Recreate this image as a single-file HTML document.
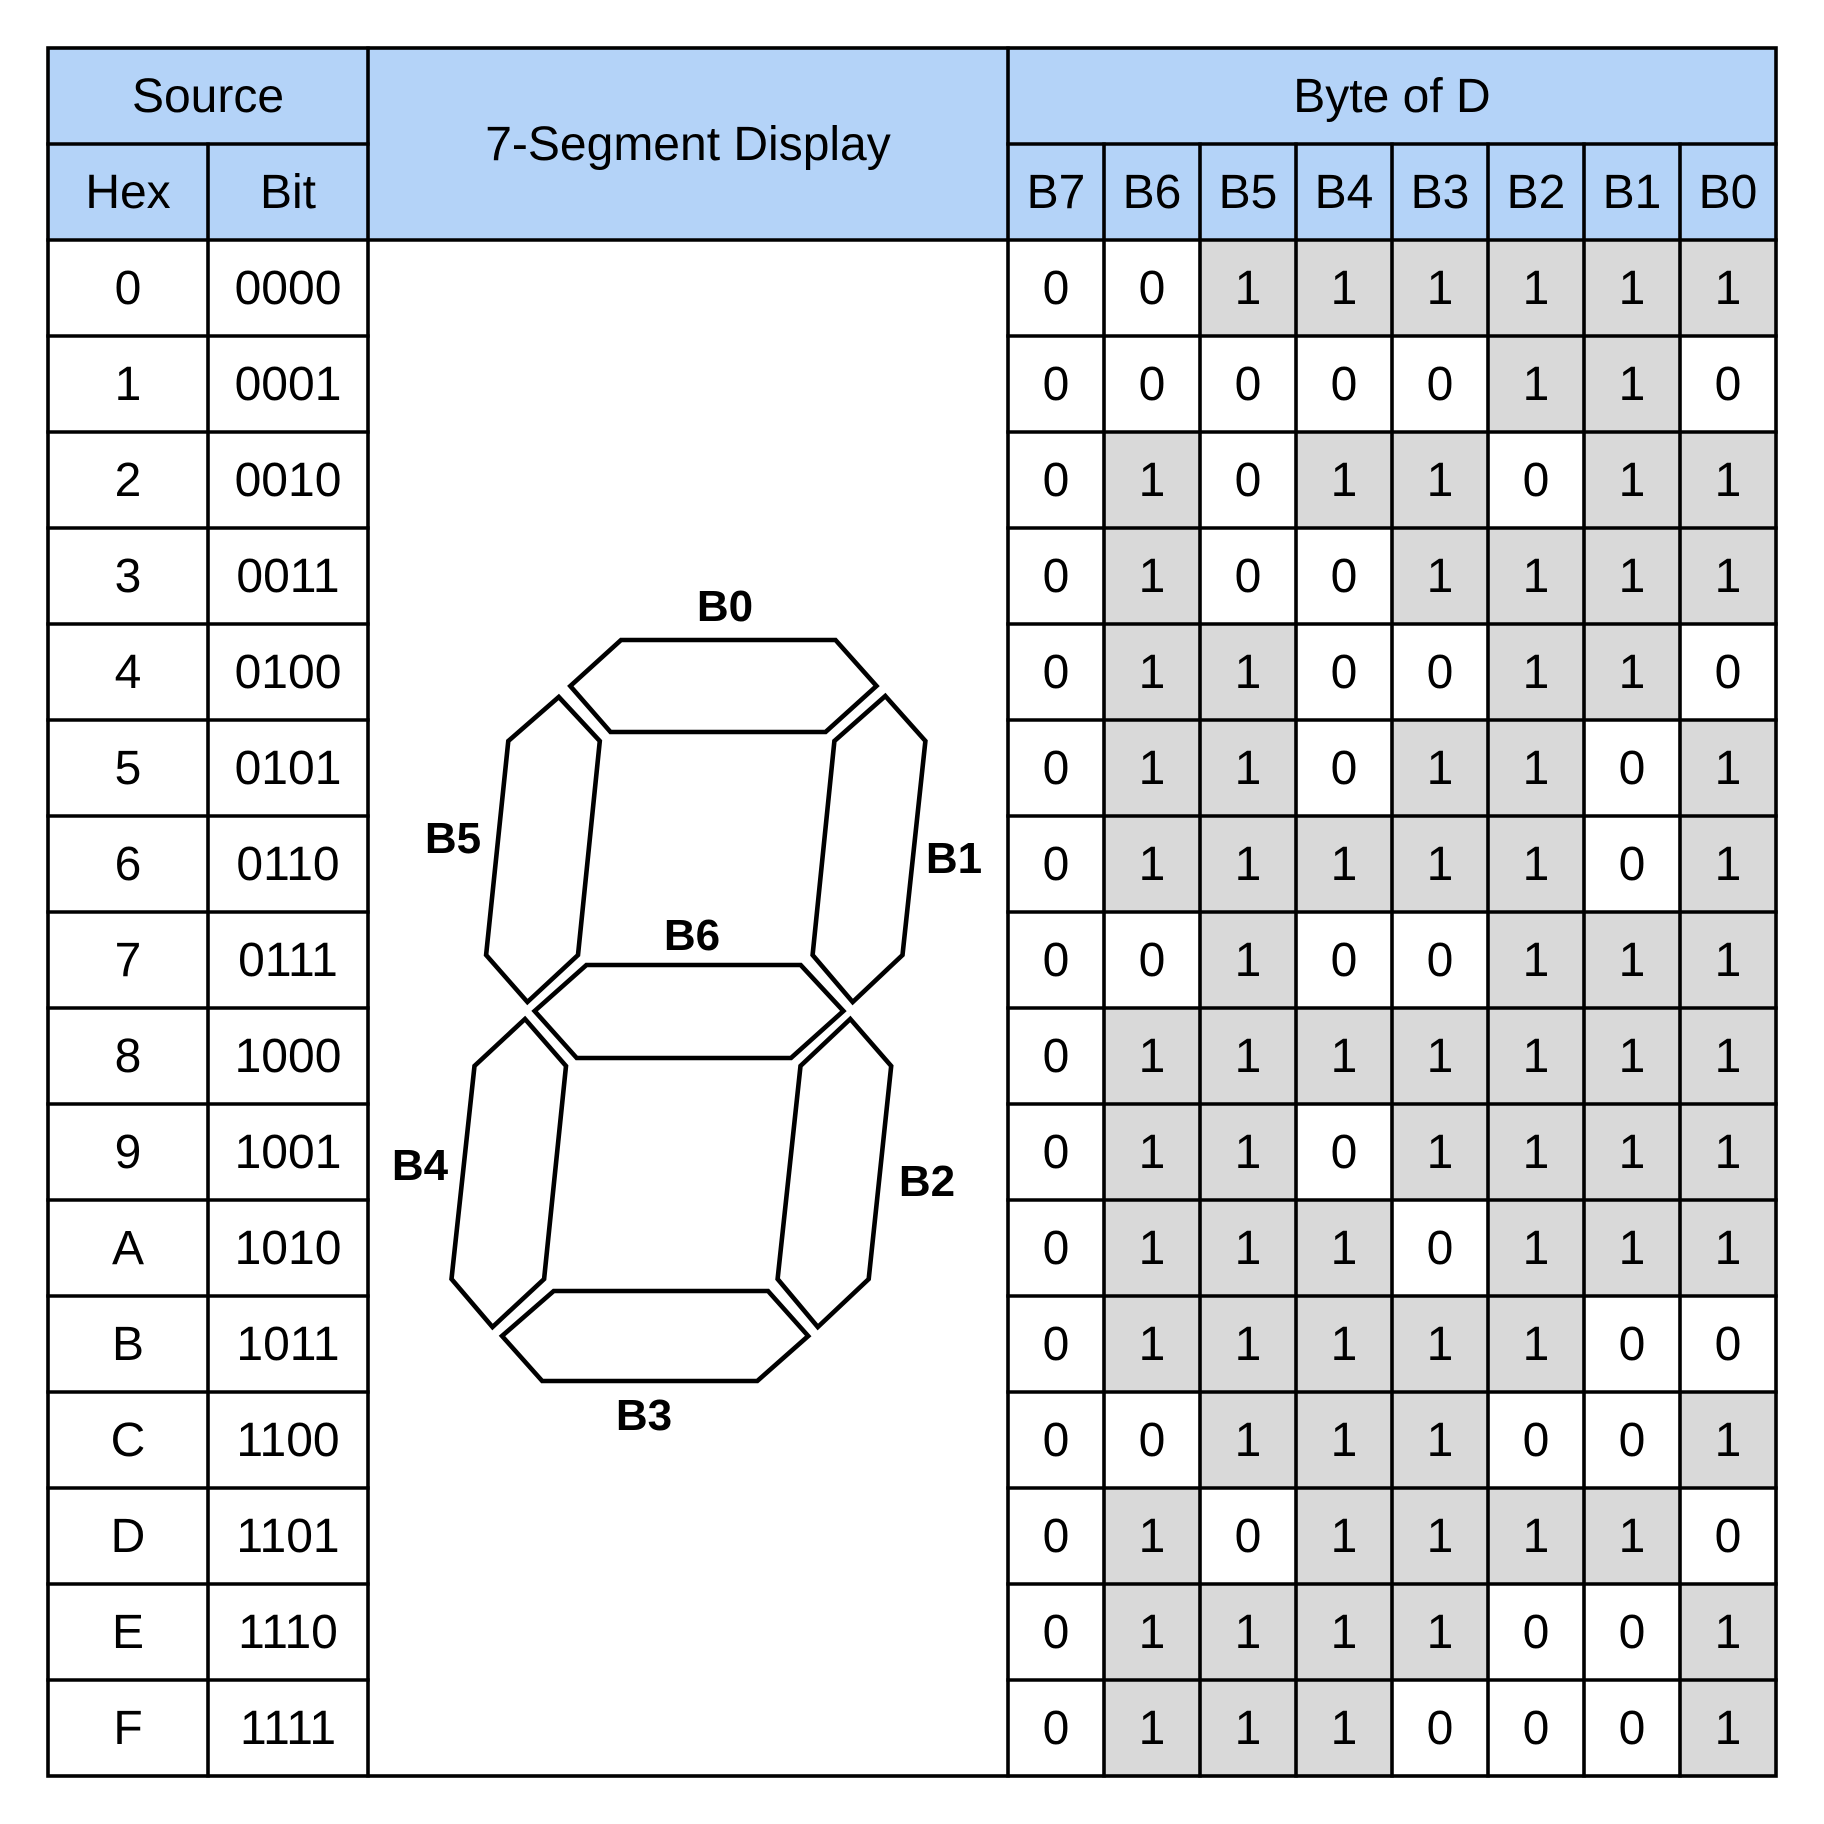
<!DOCTYPE html>
<html>
<head>
<meta charset="utf-8">
<style>
  html, body { margin:0; padding:0; background:#ffffff; }
  svg { display:block; }
  text { font-family: "Liberation Sans", Helvetica, Arial, sans-serif; font-size:48px; fill:#000; text-anchor:middle; }
  .lbl { font-weight:bold; font-size:44px; }
</style>
</head>
<body>
<svg width="1824" height="1824" viewBox="0 0 1824 1824" xmlns="http://www.w3.org/2000/svg">
  <rect x="0" y="0" width="1824" height="1824" fill="#ffffff"/>
  <!-- header fill -->
  <rect x="48" y="48" width="1728" height="192" fill="#b4d3f8"/>

  <!-- gray cells -->
  <g fill="#d9d9d9">
    <!-- row 0 y240 -->
    <rect x="1200" y="240" width="576" height="96"/>
    <!-- row 1 y336 -->
    <rect x="1488" y="336" width="192" height="96"/>
    <!-- row 2 y432 -->
    <rect x="1104" y="432" width="96" height="96"/>
    <rect x="1296" y="432" width="192" height="96"/>
    <rect x="1584" y="432" width="192" height="96"/>
    <!-- row 3 y528 -->
    <rect x="1104" y="528" width="96" height="96"/>
    <rect x="1392" y="528" width="384" height="96"/>
    <!-- row 4 y624 -->
    <rect x="1104" y="624" width="192" height="96"/>
    <rect x="1488" y="624" width="192" height="96"/>
    <!-- row 5 y720 -->
    <rect x="1104" y="720" width="192" height="96"/>
    <rect x="1392" y="720" width="192" height="96"/>
    <rect x="1680" y="720" width="96" height="96"/>
    <!-- row 6 y816 -->
    <rect x="1104" y="816" width="480" height="96"/>
    <rect x="1680" y="816" width="96" height="96"/>
    <!-- row 7 y912 -->
    <rect x="1200" y="912" width="96" height="96"/>
    <rect x="1488" y="912" width="288" height="96"/>
    <!-- row 8 y1008 -->
    <rect x="1104" y="1008" width="672" height="96"/>
    <!-- row 9 y1104 -->
    <rect x="1104" y="1104" width="192" height="96"/>
    <rect x="1392" y="1104" width="384" height="96"/>
    <!-- row A y1200 -->
    <rect x="1104" y="1200" width="288" height="96"/>
    <rect x="1488" y="1200" width="288" height="96"/>
    <!-- row B y1296 -->
    <rect x="1104" y="1296" width="480" height="96"/>
    <!-- row C y1392 -->
    <rect x="1200" y="1392" width="288" height="96"/>
    <rect x="1680" y="1392" width="96" height="96"/>
    <!-- row D y1488 -->
    <rect x="1104" y="1488" width="96" height="96"/>
    <rect x="1296" y="1488" width="384" height="96"/>
    <!-- row E y1584 -->
    <rect x="1104" y="1584" width="384" height="96"/>
    <rect x="1680" y="1584" width="96" height="96"/>
    <!-- row F y1680 -->
    <rect x="1104" y="1680" width="288" height="96"/>
    <rect x="1680" y="1680" width="96" height="96"/>
  </g>

  <!-- grid lines -->
  <g stroke="#000" stroke-width="3.6" stroke-linecap="square" fill="none">
    <rect x="48" y="48" width="1728" height="1728"/>
    <line x1="48" y1="144" x2="368" y2="144"/>
    <line x1="1008" y1="144" x2="1776" y2="144"/>
    <line x1="48" y1="240" x2="1776" y2="240"/>
    <line x1="208" y1="144" x2="208" y2="1776"/>
    <line x1="368" y1="48" x2="368" y2="1776"/>
    <line x1="1008" y1="48" x2="1008" y2="1776"/>
    <line x1="1104" y1="144" x2="1104" y2="1776"/>
    <line x1="1200" y1="144" x2="1200" y2="1776"/>
    <line x1="1296" y1="144" x2="1296" y2="1776"/>
    <line x1="1392" y1="144" x2="1392" y2="1776"/>
    <line x1="1488" y1="144" x2="1488" y2="1776"/>
    <line x1="1584" y1="144" x2="1584" y2="1776"/>
    <line x1="1680" y1="144" x2="1680" y2="1776"/>
    <line x1="48" y1="336" x2="368" y2="336"/><line x1="1008" y1="336" x2="1776" y2="336"/>
    <line x1="48" y1="432" x2="368" y2="432"/><line x1="1008" y1="432" x2="1776" y2="432"/>
    <line x1="48" y1="528" x2="368" y2="528"/><line x1="1008" y1="528" x2="1776" y2="528"/>
    <line x1="48" y1="624" x2="368" y2="624"/><line x1="1008" y1="624" x2="1776" y2="624"/>
    <line x1="48" y1="720" x2="368" y2="720"/><line x1="1008" y1="720" x2="1776" y2="720"/>
    <line x1="48" y1="816" x2="368" y2="816"/><line x1="1008" y1="816" x2="1776" y2="816"/>
    <line x1="48" y1="912" x2="368" y2="912"/><line x1="1008" y1="912" x2="1776" y2="912"/>
    <line x1="48" y1="1008" x2="368" y2="1008"/><line x1="1008" y1="1008" x2="1776" y2="1008"/>
    <line x1="48" y1="1104" x2="368" y2="1104"/><line x1="1008" y1="1104" x2="1776" y2="1104"/>
    <line x1="48" y1="1200" x2="368" y2="1200"/><line x1="1008" y1="1200" x2="1776" y2="1200"/>
    <line x1="48" y1="1296" x2="368" y2="1296"/><line x1="1008" y1="1296" x2="1776" y2="1296"/>
    <line x1="48" y1="1392" x2="368" y2="1392"/><line x1="1008" y1="1392" x2="1776" y2="1392"/>
    <line x1="48" y1="1488" x2="368" y2="1488"/><line x1="1008" y1="1488" x2="1776" y2="1488"/>
    <line x1="48" y1="1584" x2="368" y2="1584"/><line x1="1008" y1="1584" x2="1776" y2="1584"/>
    <line x1="48" y1="1680" x2="368" y2="1680"/><line x1="1008" y1="1680" x2="1776" y2="1680"/>
  </g>

  <!-- header text -->
  <text x="208" y="112">Source</text>
  <text x="688" y="160">7-Segment Display</text>
  <text x="1392" y="112">Byte of D</text>
  <text y="208"><tspan x="128">Hex</tspan><tspan x="288">Bit</tspan><tspan x="1056">B7</tspan><tspan x="1152">B6</tspan><tspan x="1248">B5</tspan><tspan x="1344">B4</tspan><tspan x="1440">B3</tspan><tspan x="1536">B2</tspan><tspan x="1632">B1</tspan><tspan x="1728">B0</tspan></text>

  <!-- data rows -->
  <text y="304"><tspan x="128">0</tspan><tspan x="288">0000</tspan><tspan x="1056">0</tspan><tspan x="1152">0</tspan><tspan x="1248">1</tspan><tspan x="1344">1</tspan><tspan x="1440">1</tspan><tspan x="1536">1</tspan><tspan x="1632">1</tspan><tspan x="1728">1</tspan></text>
  <text y="400"><tspan x="128">1</tspan><tspan x="288">0001</tspan><tspan x="1056">0</tspan><tspan x="1152">0</tspan><tspan x="1248">0</tspan><tspan x="1344">0</tspan><tspan x="1440">0</tspan><tspan x="1536">1</tspan><tspan x="1632">1</tspan><tspan x="1728">0</tspan></text>
  <text y="496"><tspan x="128">2</tspan><tspan x="288">0010</tspan><tspan x="1056">0</tspan><tspan x="1152">1</tspan><tspan x="1248">0</tspan><tspan x="1344">1</tspan><tspan x="1440">1</tspan><tspan x="1536">0</tspan><tspan x="1632">1</tspan><tspan x="1728">1</tspan></text>
  <text y="592"><tspan x="128">3</tspan><tspan x="288">0011</tspan><tspan x="1056">0</tspan><tspan x="1152">1</tspan><tspan x="1248">0</tspan><tspan x="1344">0</tspan><tspan x="1440">1</tspan><tspan x="1536">1</tspan><tspan x="1632">1</tspan><tspan x="1728">1</tspan></text>
  <text y="688"><tspan x="128">4</tspan><tspan x="288">0100</tspan><tspan x="1056">0</tspan><tspan x="1152">1</tspan><tspan x="1248">1</tspan><tspan x="1344">0</tspan><tspan x="1440">0</tspan><tspan x="1536">1</tspan><tspan x="1632">1</tspan><tspan x="1728">0</tspan></text>
  <text y="784"><tspan x="128">5</tspan><tspan x="288">0101</tspan><tspan x="1056">0</tspan><tspan x="1152">1</tspan><tspan x="1248">1</tspan><tspan x="1344">0</tspan><tspan x="1440">1</tspan><tspan x="1536">1</tspan><tspan x="1632">0</tspan><tspan x="1728">1</tspan></text>
  <text y="880"><tspan x="128">6</tspan><tspan x="288">0110</tspan><tspan x="1056">0</tspan><tspan x="1152">1</tspan><tspan x="1248">1</tspan><tspan x="1344">1</tspan><tspan x="1440">1</tspan><tspan x="1536">1</tspan><tspan x="1632">0</tspan><tspan x="1728">1</tspan></text>
  <text y="976"><tspan x="128">7</tspan><tspan x="288">0111</tspan><tspan x="1056">0</tspan><tspan x="1152">0</tspan><tspan x="1248">1</tspan><tspan x="1344">0</tspan><tspan x="1440">0</tspan><tspan x="1536">1</tspan><tspan x="1632">1</tspan><tspan x="1728">1</tspan></text>
  <text y="1072"><tspan x="128">8</tspan><tspan x="288">1000</tspan><tspan x="1056">0</tspan><tspan x="1152">1</tspan><tspan x="1248">1</tspan><tspan x="1344">1</tspan><tspan x="1440">1</tspan><tspan x="1536">1</tspan><tspan x="1632">1</tspan><tspan x="1728">1</tspan></text>
  <text y="1168"><tspan x="128">9</tspan><tspan x="288">1001</tspan><tspan x="1056">0</tspan><tspan x="1152">1</tspan><tspan x="1248">1</tspan><tspan x="1344">0</tspan><tspan x="1440">1</tspan><tspan x="1536">1</tspan><tspan x="1632">1</tspan><tspan x="1728">1</tspan></text>
  <text y="1264"><tspan x="128">A</tspan><tspan x="288">1010</tspan><tspan x="1056">0</tspan><tspan x="1152">1</tspan><tspan x="1248">1</tspan><tspan x="1344">1</tspan><tspan x="1440">0</tspan><tspan x="1536">1</tspan><tspan x="1632">1</tspan><tspan x="1728">1</tspan></text>
  <text y="1360"><tspan x="128">B</tspan><tspan x="288">1011</tspan><tspan x="1056">0</tspan><tspan x="1152">1</tspan><tspan x="1248">1</tspan><tspan x="1344">1</tspan><tspan x="1440">1</tspan><tspan x="1536">1</tspan><tspan x="1632">0</tspan><tspan x="1728">0</tspan></text>
  <text y="1456"><tspan x="128">C</tspan><tspan x="288">1100</tspan><tspan x="1056">0</tspan><tspan x="1152">0</tspan><tspan x="1248">1</tspan><tspan x="1344">1</tspan><tspan x="1440">1</tspan><tspan x="1536">0</tspan><tspan x="1632">0</tspan><tspan x="1728">1</tspan></text>
  <text y="1552"><tspan x="128">D</tspan><tspan x="288">1101</tspan><tspan x="1056">0</tspan><tspan x="1152">1</tspan><tspan x="1248">0</tspan><tspan x="1344">1</tspan><tspan x="1440">1</tspan><tspan x="1536">1</tspan><tspan x="1632">1</tspan><tspan x="1728">0</tspan></text>
  <text y="1648"><tspan x="128">E</tspan><tspan x="288">1110</tspan><tspan x="1056">0</tspan><tspan x="1152">1</tspan><tspan x="1248">1</tspan><tspan x="1344">1</tspan><tspan x="1440">1</tspan><tspan x="1536">0</tspan><tspan x="1632">0</tspan><tspan x="1728">1</tspan></text>
  <text y="1744"><tspan x="128">F</tspan><tspan x="288">1111</tspan><tspan x="1056">0</tspan><tspan x="1152">1</tspan><tspan x="1248">1</tspan><tspan x="1344">1</tspan><tspan x="1440">0</tspan><tspan x="1536">0</tspan><tspan x="1632">0</tspan><tspan x="1728">1</tspan></text>

  <!-- 7-segment display -->
  <g fill="#fff" stroke="#000" stroke-width="4.6" stroke-linejoin="miter">
    <!-- B0 -->
    <polygon points="621,640 835.5,640 876.5,686 825.6,732 610.5,732 570.3,686"/>
    <!-- B5 -->
    <polygon points="558.8,697 599.8,741 578,955 527.4,1002 486.1,955 508.3,741"/>
    <!-- B1 -->
    <polygon points="885.3,696 925.4,741 902.5,955 852.7,1002 812.6,955 834.4,741"/>
    <!-- B6 -->
    <polygon points="586.4,965 800.7,965 843.4,1011 791,1058 576.7,1058 534.6,1011"/>
    <!-- B4 -->
    <polygon points="525,1019 566,1066 544.1,1279 492.5,1327 451.5,1279 474.5,1066"/>
    <!-- B2 -->
    <polygon points="850.3,1019 891.2,1066 868.7,1279 817.8,1327 777.6,1279 800.5,1066"/>
    <!-- B3 -->
    <polygon points="553.7,1291 768,1291 808.2,1336 757.3,1381 542.2,1381 502,1336"/>
  </g>

  <!-- segment labels -->
  <text class="lbl" x="725" y="621">B0</text>
  <text class="lbl" x="453" y="853">B5</text>
  <text class="lbl" x="954" y="873">B1</text>
  <text class="lbl" x="692" y="950">B6</text>
  <text class="lbl" x="420" y="1180">B4</text>
  <text class="lbl" x="927" y="1196">B2</text>
  <text class="lbl" x="644" y="1430">B3</text>
</svg>
</body>
</html>
